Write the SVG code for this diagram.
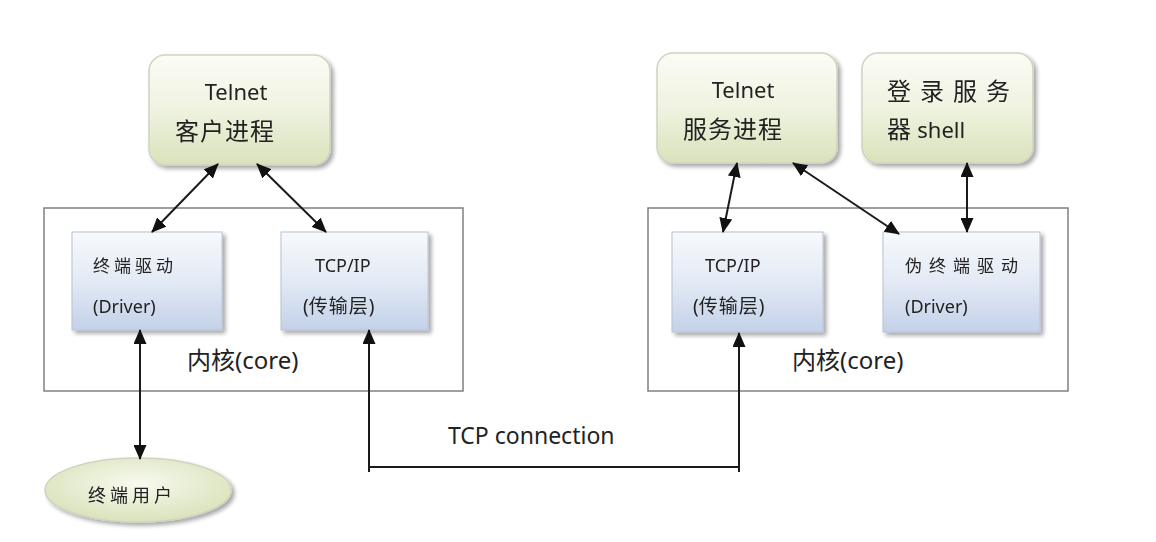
<svg xmlns="http://www.w3.org/2000/svg" width="1156" height="542" viewBox="0 0 1156 542">
<defs>
<linearGradient id="gGreen" x1="0" y1="0" x2="0" y2="1"><stop offset="0" stop-color="#fbfcf6"/><stop offset="0.5" stop-color="#eff3e0"/><stop offset="1" stop-color="#d9e2bb"/></linearGradient>
<linearGradient id="gBlue" x1="0" y1="0" x2="0" y2="1"><stop offset="0" stop-color="#f7f9fc"/><stop offset="0.5" stop-color="#e3eaf5"/><stop offset="1" stop-color="#c3d1e8"/></linearGradient>
<radialGradient id="gEll" cx="0.5" cy="0.4" r="0.6"><stop offset="0" stop-color="#f8faef"/><stop offset="1" stop-color="#d9e2bb"/></radialGradient>
<filter id="sh" x="-10%" y="-10%" width="130%" height="140%"><feGaussianBlur in="SourceAlpha" stdDeviation="2"/><feOffset dx="3" dy="3"/><feComponentTransfer><feFuncA type="linear" slope="0.35"/></feComponentTransfer><feMerge><feMergeNode/><feMergeNode in="SourceGraphic"/></feMerge></filter>
<marker id="ah" markerWidth="15" markerHeight="13" refX="14" refY="6.5" orient="auto-start-reverse" markerUnits="userSpaceOnUse"><path d="M0,0 L15,6.5 L0,13 Z" fill="#111"/></marker>
</defs>
<style>
.t{font-family:"Noto Sans","Noto Sans CJK SC",sans-serif;fill:#222}
.big{font-size:23px}
.mid{font-size:17px}
.core{fill:none;stroke:#808080;stroke-width:1.5}
.green{fill:url(#gGreen);stroke:#cfd4bf;stroke-width:1.5}
.blue{fill:url(#gBlue);stroke:#b8c2d2;stroke-width:1}
.c{fill:none;stroke:#1a1a1a;stroke-width:2}
</style>
<rect width="1156" height="542" fill="#fff"/>
<g id="core-left"><rect class="core" x="44" y="208" width="419" height="183"/><text class="t big" x="187" y="369" style="font-size:24px">内核(core)</text></g>
<g id="core-right"><rect class="core" x="648" y="208" width="420" height="183"/><text class="t big" x="792" y="369" style="font-size:24px">内核(core)</text></g>
<g id="telnet-client" filter="url(#sh)"><rect class="green" x="149" y="55" width="181" height="110" rx="16"/><text class="t" x="236" y="100" text-anchor="middle" style="font-size:22px">Telnet</text><text class="t" x="175" y="140" style="font-size:24px;letter-spacing:1px">客户进程</text></g>
<g id="telnet-server" filter="url(#sh)"><rect class="green" x="657" y="53" width="180" height="110" rx="16"/><text class="t" x="743" y="98" text-anchor="middle" style="font-size:22px">Telnet</text><text class="t" x="683" y="138" style="font-size:24px;letter-spacing:1px">服务进程</text></g>
<g id="login-shell" filter="url(#sh)"><rect class="green" x="862" y="53" width="171" height="110" rx="16"/><text class="t" x="887" y="100" style="font-size:24px;letter-spacing:9px">登录服务</text><text class="t" x="887" y="138" style="font-size:24px">器 <tspan style="font-size:22px">shell</tspan></text></g>
<g id="driver-left" filter="url(#sh)"><rect class="blue" x="72" y="232" width="150" height="98"/><text class="t mid" x="93" y="272" style="letter-spacing:4px">终端驱动</text><text class="t mid" x="93" y="313" style="font-size:18px">(Driver)</text></g>
<g id="tcpip-left" filter="url(#sh)"><rect class="blue" x="281" y="232" width="147" height="98"/><text class="t mid" x="315" y="272" style="font-size:18px">TCP/IP</text><text class="t mid" x="303" y="313" style="font-size:19px">(<tspan style="letter-spacing:1px">传输层</tspan>)</text></g>
<g id="tcpip-right" filter="url(#sh)"><rect class="blue" x="672" y="232" width="151" height="100"/><text class="t mid" x="705" y="272" style="font-size:18px">TCP/IP</text><text class="t mid" x="693" y="313" style="font-size:19px">(<tspan style="letter-spacing:1px">传输层</tspan>)</text></g>
<g id="pty-driver" filter="url(#sh)"><rect class="blue" x="883" y="232" width="157" height="100"/><text class="t mid" x="905" y="272" style="letter-spacing:7px">伪终端驱动</text><text class="t mid" x="905" y="313" style="font-size:18px">(Driver)</text></g>
<g id="terminal-user" filter="url(#sh)"><ellipse cx="138" cy="490" rx="93" ry="32" fill="url(#gEll)" stroke="#cfd4bf" stroke-width="1.5"/><text class="t mid" x="88" y="502" style="font-size:18px;letter-spacing:4px">终端用户</text></g>
<g id="connectors">
<line class="c" x1="218" y1="164" x2="152" y2="232" marker-start="url(#ah)" marker-end="url(#ah)"/>
<line class="c" x1="257" y1="164" x2="326" y2="232" marker-start="url(#ah)" marker-end="url(#ah)"/>
<line class="c" x1="140" y1="330" x2="140" y2="459" marker-start="url(#ah)" marker-end="url(#ah)"/>
<line class="c" x1="737" y1="163" x2="723" y2="232" marker-start="url(#ah)" marker-end="url(#ah)"/>
<line class="c" x1="793" y1="163" x2="899" y2="234" marker-start="url(#ah)" marker-end="url(#ah)"/>
<line class="c" x1="967" y1="163" x2="967" y2="232" marker-start="url(#ah)" marker-end="url(#ah)"/>
<polyline class="c" points="369,330 369,467 739,467 739,333" marker-start="url(#ah)" marker-end="url(#ah)"/>
<line class="c" x1="369" y1="467" x2="369" y2="472"/>
<line class="c" x1="739" y1="467" x2="739" y2="472"/>
<text class="t" x="448" y="444" style="font-size:23px">TCP connection</text>
</g>
</svg>
